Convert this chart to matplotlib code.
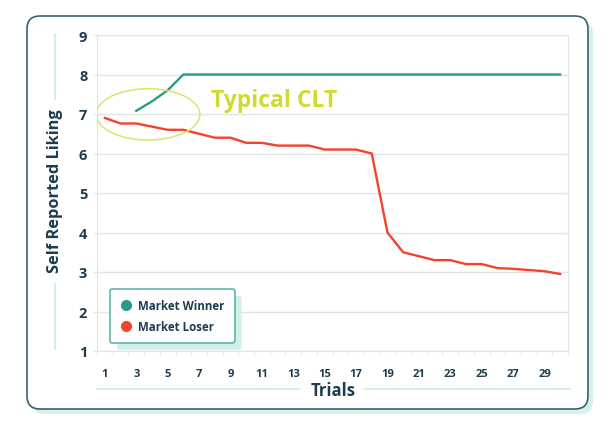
import matplotlib
matplotlib.use("Agg")
import matplotlib.pyplot as plt
from matplotlib.lines import Line2D
from matplotlib.patches import FancyBboxPatch, Ellipse

plt.rcParams['font.family'] = ['Open Sans', 'DejaVu Sans']

# data
trials = list(range(1, 31))
loser = [6.9, 6.76, 6.76, 6.68, 6.6, 6.6, 6.5, 6.4, 6.4, 6.27,
         6.27, 6.2, 6.2, 6.2, 6.1, 6.1, 6.1, 6.0, 4.0, 3.5,
         3.4, 3.3, 3.3, 3.2, 3.2, 3.1, 3.08, 3.05, 3.02, 2.95]
winner_trials = list(range(3, 31))
winner = [7.08, 7.32, 7.6] + [8.0] * 25
y_ticks = list(range(1, 10))
x_labels = list(range(1, 30, 2))

NAVY = "#1c3d4f"
TEAL = "#279c8b"
RED = "#f4432c"
LIME = "#cfdb2e"
MINT = "#c8ece4"
GRID = "#e4e4e4"

fig = plt.figure(figsize=(6.13, 4.27), dpi=100)
fig.patch.set_facecolor("white")
inch = fig.dpi_scale_trans

# outer card with a mint shadow
shadow = FancyBboxPatch((0.32, 0.12), 5.61, 3.93, boxstyle="round,pad=0,rounding_size=0.13",
                        transform=inch, facecolor="#d6f1ea", edgecolor="none", zorder=0)
card = FancyBboxPatch((0.27, 0.17), 5.61, 3.93, boxstyle="round,pad=0,rounding_size=0.13",
                      transform=inch, facecolor="white", edgecolor="#3f5f6d", lw=1.2, zorder=1)
fig.add_artist(shadow)
fig.add_artist(card)

ax = fig.add_axes([97 / 613, 75 / 427, 471 / 613, 316 / 427])
ax.set_zorder(2)
ax.patch.set_alpha(0)

ax.plot(trials, loser, color=RED, lw=1.7, zorder=3)
ax.plot(winner_trials, winner, color=TEAL, lw=1.7, zorder=3)

ax.set_xlim(0.5, 30.5)
ax.set_ylim(1, 9)
ax.set_yticks(y_ticks)
ax.set_xticks(x_labels)
ax.set_xticks([t + 0.5 for t in range(0, 31)], minor=True)
ax.grid(axis="y", color=GRID, lw=1, zorder=0)
ax.tick_params(axis="x", which="major", length=0, pad=12, labelsize=8, labelcolor=NAVY)
ax.tick_params(axis="x", which="minor", length=3, color=GRID)
ax.tick_params(axis="y", length=3, color=GRID, pad=4, labelsize=10.5, labelcolor=NAVY)
for lab in ax.get_xticklabels() + ax.get_yticklabels():
    lab.set_fontweight("bold")
ax.spines["top"].set_visible(False)
for s in ("left", "bottom", "right"):
    ax.spines[s].set_color(GRID)

# annotation
ax.add_patch(Ellipse((3.75, 6.99), 6.6, 1.3, fill=False, edgecolor="#dde46a", lw=1.1, zorder=4))
ax.text(7.75, 7.36, "Typical CLT", color=LIME, fontsize=16.5, fontweight="bold",
        va="center", ha="left")

handles = [Line2D([], [], marker="o", ls="none", color=TEAL, markersize=7),
           Line2D([], [], marker="o", ls="none", color=RED, markersize=7)]
leg = ax.legend(handles, ["Market Winner", "Market Loser"], loc="lower left",
                bbox_to_anchor=(0.028, 0.026), borderaxespad=0, frameon=True,
                fancybox=True, framealpha=1, edgecolor="#4fb0a4", fontsize=8.3,
                handletextpad=0.6, borderpad=0.85, labelspacing=0.7, handlelength=1.0,
                shadow={"ox": 5, "oy": -5, "facecolor": "#d2efe8", "edgecolor": "none", "alpha": 1})
for t in leg.get_texts():
    t.set_color(NAVY)
    t.set_fontweight("bold")
leg.get_frame().set_linewidth(1.1)

# axis titles with decorative mint rules
fig.text(0.55, 2.36, "Self Reported Liking", transform=inch, rotation=90, ha="center",
         va="center", color=NAVY, fontsize=11.8, fontweight="bold")
fig.add_artist(Line2D([0.55, 0.55], [3.27, 3.92], transform=inch, color=MINT, lw=1.2))
fig.add_artist(Line2D([0.55, 0.55], [0.77, 1.42], transform=inch, color=MINT, lw=1.2))
fig.text(3.33, 0.36, "Trials", transform=inch, ha="center", va="center",
         color=NAVY, fontsize=12, fontweight="bold")
fig.add_artist(Line2D([0.97, 3.0], [0.37, 0.37], transform=inch, color=MINT, lw=1.2))
fig.add_artist(Line2D([3.64, 5.70], [0.37, 0.37], transform=inch, color=MINT, lw=1.2))

fig.savefig("out.png", dpi=100)
